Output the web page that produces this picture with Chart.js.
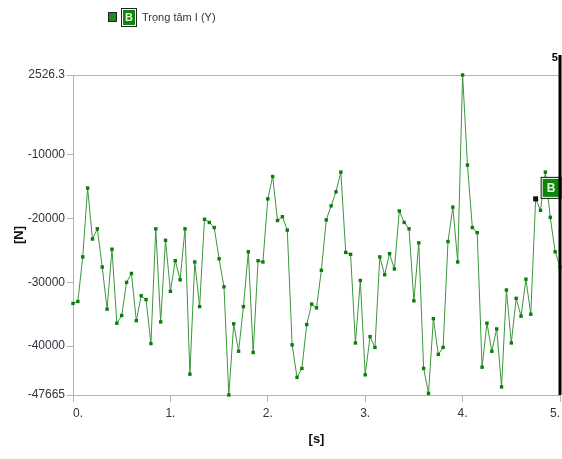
<!DOCTYPE html>
<html>
<head>
<meta charset="utf-8">
<script src="https://cdn.jsdelivr.net/npm/chart.js@4/dist/chart.umd.min.js"></script>
<style>
  html, body { margin: 0; padding: 0; background: #fff; }
</style>
</head>
<body>
<canvas id="myChart" width="562" height="459"></canvas>
<script>
// thoi gian [s]
const times = [
  0.00, 0.05, 0.10, 0.15, 0.20, 0.25, 0.30, 0.35, 0.40, 0.45,
  0.50, 0.55, 0.60, 0.65, 0.70, 0.75, 0.80, 0.85, 0.90, 0.95,
  1.00, 1.05, 1.10, 1.15, 1.20, 1.25, 1.30, 1.35, 1.40, 1.45,
  1.50, 1.55, 1.60, 1.65, 1.70, 1.75, 1.80, 1.85, 1.90, 1.95,
  2.00, 2.05, 2.10, 2.15, 2.20, 2.25, 2.30, 2.35, 2.40, 2.45,
  2.50, 2.55, 2.60, 2.65, 2.70, 2.75, 2.80, 2.85, 2.90, 2.95,
  3.00, 3.05, 3.10, 3.15, 3.20, 3.25, 3.30, 3.35, 3.40, 3.45,
  3.50, 3.55, 3.60, 3.65, 3.70, 3.75, 3.80, 3.85, 3.90, 3.95,
  4.00, 4.05, 4.10, 4.15, 4.20, 4.25, 4.30, 4.35, 4.40, 4.45,
  4.50, 4.55, 4.60, 4.65, 4.70, 4.75, 4.80, 4.85, 4.90, 4.95,
  5.00
];

// luc [N]
const forces = [
  -33300, -33000, -26000, -15200, -23200, -21600, -27600, -34200, -24800, -36400,
  -35200, -30000, -28600, -36000, -32100, -32700, -39600, -21600, -36200, -23400,
  -31400, -26600, -29600, -21600, -44400, -26800, -33800, -20100, -20600, -21400,
  -26300, -30700, -47665, -36500, -40800, -33800, -25200, -41000, -26600, -26800,
  -16900, -13400, -20300, -19700, -21800, -39800, -44900, -43500, -36600, -33400,
  -34000, -28100, -20200, -18000, -15800, -12700, -25300, -25600, -39500, -29700,
  -44500, -38500, -40200, -26000, -28800, -25500, -27900, -18800, -20600, -21600,
  -32900, -23800, -43500, -47400, -35700, -41300, -40200, -23600, -18200, -26800,
  2526.3, -11600, -21400, -22200, -43300, -36400, -40800, -37300, -46400, -31200,
  -39500, -32500, -35300, -29500, -35000, -16900, -18700, -12700, -19800, -25200,
  -27600
];

const yTicks = [2526.3, -10000, -20000, -30000, -40000, -47665];
const xTicks = [0, 1, 2, 3, 4, 5];
const seriesName = 'Trọng tâm I (Y)';
const seriesTag = 'B';
const cursorTime = 5;
const markerIndex = 95; // diem B

const yMin = -47665;
const yMax = 2526.3;
const axisGrey = '#b4b4b4';
const textCol = '#333340';
const fontName = '"Liberation Sans", Arial, sans-serif';

const points = times.map((t, i) => ({ x: t, y: forces[i] }));

// ve cursor, nhan B va legend
const overlay = {
  id: 'overlay',
  afterDatasetsDraw(chart) {
    const c = chart.ctx;
    const area = chart.chartArea;
    const pt = chart.getDatasetMeta(0).data[markerIndex];
    c.save();
    // nhan B tai diem
    c.fillStyle = '#111';
    c.fillRect(pt.x - 2.5, pt.y - 2.5, 5, 5);
    const bx = pt.x + 5, by = pt.y - 22;
    c.fillStyle = '#111';
    c.fillRect(bx, by, 21, 22);
    c.fillStyle = '#fff';
    c.fillRect(bx + 1, by + 1, 19, 20);
    c.fillStyle = '#0c860c';
    c.fillRect(bx + 2, by + 2, 17, 18);
    c.fillStyle = '#eef5d8';
    c.font = 'bold 12px ' + fontName;
    c.textAlign = 'center';
    c.textBaseline = 'middle';
    c.fillText(seriesTag, bx + 10.5, by + 11.5);

    // cursor
    const cx = chart.scales.x.getPixelForValue(cursorTime);
    c.strokeStyle = '#000';
    c.lineWidth = 3;
    c.beginPath();
    c.moveTo(cx, area.top - 20);
    c.lineTo(cx, area.bottom);
    c.stroke();
    c.fillStyle = '#000';
    c.font = 'bold 11px ' + fontName;
    c.textAlign = 'right';
    c.fillText(cursorTime + '.', cx + 1, area.top - 17);
    c.restore();
  },
  afterDraw(chart) {
    const c = chart.ctx;
    c.save();
    c.fillStyle = '#222';
    c.fillRect(108, 12, 9, 10);
    c.fillStyle = '#1a8c1a';
    c.fillRect(109, 13, 7, 8);
    c.fillStyle = '#222';
    c.fillRect(121, 8, 16, 19);
    c.fillStyle = '#fff';
    c.fillRect(122, 9, 14, 17);
    c.fillStyle = '#0c860c';
    c.fillRect(123, 10, 12, 15);
    c.fillStyle = '#eef5d8';
    c.font = 'bold 11px ' + fontName;
    c.textAlign = 'center';
    c.textBaseline = 'middle';
    c.fillText(seriesTag, 129, 18);
    c.fillStyle = textCol;
    c.font = '11px ' + fontName;
    c.textAlign = 'left';
    c.fillText(seriesName, 142, 18);
    c.restore();
  }
};

const ctx = document.getElementById('myChart').getContext('2d');

const myChart = new Chart(ctx, {
  type: 'line',
  data: {
    datasets: [{
      label: seriesName,
      data: points,
      borderColor: '#3a963a',
      borderWidth: 1,
      pointStyle: 'rect',
      pointRadius: 2.4,
      pointBorderWidth: 0,
      pointBackgroundColor: '#0a7c0a',
      tension: 0,
      clip: 5
    }]
  },
  options: {
    responsive: false,
    animation: false,
    devicePixelRatio: 1,
    layout: { autoPadding: false, padding: { top: 75, right: 2, left: 0, bottom: 0 } },
    plugins: {
      legend: { display: false },
      tooltip: { enabled: false }
    },
    scales: {
      x: {
        type: 'linear',
        min: 0,
        max: 5,
        afterBuildTicks: s => { s.ticks = xTicks.map(v => ({ value: v })); },
        afterFit: s => { s.height = 64; s.paddingLeft = 0; s.paddingRight = 0; },
        ticks: {
          callback: v => v + '.',
          color: textCol,
          font: { family: fontName, size: 12 },
          padding: 4,
          align: 'inner',
          maxRotation: 0
        },
        grid: { drawOnChartArea: false, tickLength: 7, tickColor: axisGrey },
        border: { color: axisGrey, width: 1 },
        title: {
          display: true,
          text: '[s]',
          color: '#111',
          font: { family: fontName, size: 13, weight: 'bold' },
          padding: { top: 12, bottom: 12 }
        }
      },
      y: {
        min: yMin,
        max: yMax,
        afterBuildTicks: s => { s.ticks = yTicks.map(v => ({ value: v })); },
        afterFit: s => { s.width = 73; },
        ticks: {
          callback: v => String(v),
          color: textCol,
          font: { family: fontName, size: 12 },
          padding: 2
        },
        grid: {
          color: c => (c.tick && c.tick.value === yMax) ? axisGrey : 'rgba(0,0,0,0)',
          tickColor: axisGrey,
          tickLength: 6
        },
        border: { color: axisGrey, width: 1 },
        title: {
          display: true,
          text: '[N]',
          color: '#111',
          font: { family: fontName, size: 13, weight: 'bold' },
          padding: { top: 12, bottom: 12 }
        }
      }
    }
  },
  plugins: [overlay]
});
</script>
</body>
</html>
